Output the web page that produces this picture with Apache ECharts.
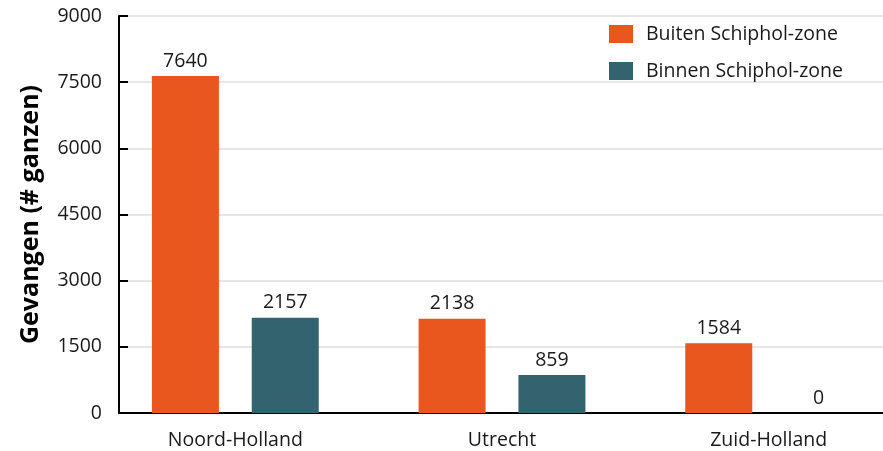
<!DOCTYPE html>
<html>
<head>
<meta charset="utf-8">
<script src="https://cdn.jsdelivr.net/npm/echarts@6/dist/echarts.min.js"></script>
<style>
  html, body { margin: 0; padding: 0; background: #fff; }
  #chart { width: 883px; height: 451px; }
</style>
</head>
<body>
<div id="chart"></div>
<script>
// provincies en aantallen gevangen ganzen
const categories = ['Noord-Holland', 'Utrecht', 'Zuid-Holland']
const buiten = [7640, 2138, 1584]
const binnen = [2157, 859, 0]
const seriesNames = ['Buiten Schiphol-zone', 'Binnen Schiphol-zone']
const yTicks = { min: 0, max: 9000, interval: 1500 }

const font = '"Open Sans", "Noto Sans", sans-serif'
const labelStyle = { fontFamily: font, fontSize: 19.5, color: '#1a1a1a' }

const chart = echarts.init(document.getElementById('chart'))
chart.setOption({
  animation: false,
  color: ['#E9561E', '#33636E'],
  legend: {
    orient: 'vertical',
    left: 609,
    top: 24,
    padding: 0,
    icon: 'rect',
    itemWidth: 24,
    itemHeight: 18,
    itemGap: 17,
    textStyle: Object.assign({ padding: [0, 0, 0, 8] }, labelStyle),
    data: seriesNames
  },
  grid: [
    // grid met de balken (band breder dan de y-as)
    { left: 102, width: 800, top: 16, bottom: 38, outerBoundsMode: 'none' },
    // grid alleen voor rasterlijnen en x-aslijn
    { left: 119, right: 0, top: 16, bottom: 38, outerBoundsMode: 'none' }
  ],
  xAxis: [
    {
      type: 'category',
      gridIndex: 0,
      data: categories,
      axisLine: { show: false },
      axisTick: { alignWithLabel: true, length: 10, lineStyle: { color: '#000', width: 2 } },
      axisLabel: Object.assign({ margin: 17 }, labelStyle)
    },
    {
      type: 'category',
      gridIndex: 1,
      data: [''],
      axisLine: { lineStyle: { color: '#000', width: 2 } },
      axisTick: { show: false },
      axisLabel: { show: false }
    }
  ],
  yAxis: [
    {
      type: 'value',
      gridIndex: 0,
      min: yTicks.min,
      max: yTicks.max,
      interval: yTicks.interval,
      offset: -17,
      name: 'Gevangen (# ganzen)',
      nameLocation: 'middle',
      nameGap: 76,
      nameTextStyle: { fontFamily: font, fontSize: 25, fontWeight: 'bold', color: '#000' },
      axisLine: { show: true, lineStyle: { color: '#000', width: 2 } },
      axisTick: { show: true, inside: true, length: 9, lineStyle: { color: '#000', width: 2 } },
      axisLabel: Object.assign({ margin: 17, formatter: function (v) { return String(v) } }, labelStyle),
      splitLine: { show: false }
    },
    {
      type: 'value',
      gridIndex: 1,
      min: yTicks.min,
      max: yTicks.max,
      interval: yTicks.interval,
      axisLine: { show: false },
      axisTick: { show: false },
      axisLabel: { show: false },
      splitLine: { lineStyle: { color: '#e6e6e6', width: 2 } }
    }
  ],
  series: [
    {
      name: seriesNames[0],
      type: 'bar',
      xAxisIndex: 0,
      yAxisIndex: 0,
      barWidth: 67,
      barGap: '49%',
      data: buiten,
      label: Object.assign({ show: true, position: 'top', distance: 5 }, labelStyle)
    },
    {
      name: seriesNames[1],
      type: 'bar',
      xAxisIndex: 0,
      yAxisIndex: 0,
      barWidth: 67,
      data: binnen,
      label: Object.assign({ show: true, position: 'top', distance: 5 }, labelStyle)
    }
  ]
})
window.onresize = function () {
  chart.resize()
}
</script>
</body>
</html>
